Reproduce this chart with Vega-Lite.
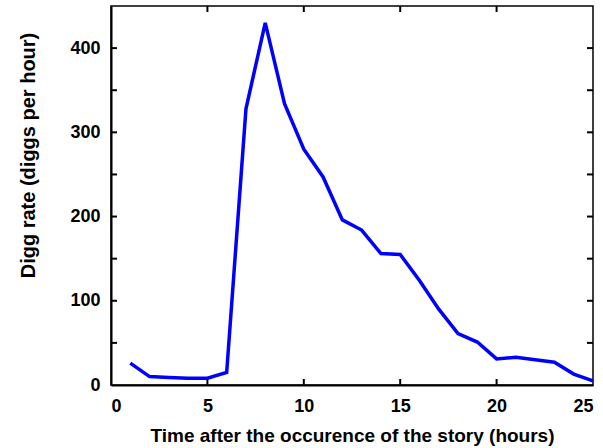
{
  "$schema": "https://vega.github.io/schema/vega-lite/v6.json",
  "width": 482,
  "height": 379,
  "autosize": "none",
  "padding": {"left": 111, "top": 6, "right": 10, "bottom": 63},
  "background": "white",
  "config": {
    "view": {"stroke": "black", "strokeWidth": 1.5},
    "axis": {
      "domainColor": "black",
      "domainWidth": 2,
      "grid": false,
      "labelFont": "Liberation Sans",
      "labelFontWeight": "bold",
      "labelFontSize": 18,
      "labelColor": "black",
      "titleFont": "Liberation Sans",
      "titleFontWeight": "bold",
      "titleColor": "black"
    }
  },
  "datasets": {
    "digg": [
      {"t": 1, "rate": 26},
      {"t": 2, "rate": 10},
      {"t": 3, "rate": 9},
      {"t": 4, "rate": 8},
      {"t": 5, "rate": 8},
      {"t": 6, "rate": 15},
      {"t": 7, "rate": 328},
      {"t": 8, "rate": 430},
      {"t": 9, "rate": 334},
      {"t": 10, "rate": 280},
      {"t": 11, "rate": 247},
      {"t": 12, "rate": 196},
      {"t": 13, "rate": 184},
      {"t": 14, "rate": 156},
      {"t": 15, "rate": 155},
      {"t": 16, "rate": 124},
      {"t": 17, "rate": 90},
      {"t": 18, "rate": 61},
      {"t": 19, "rate": 51},
      {"t": 20, "rate": 31},
      {"t": 21, "rate": 33},
      {"t": 22, "rate": 30},
      {"t": 23, "rate": 27},
      {"t": 24, "rate": 13},
      {"t": 25, "rate": 5}
    ],
    "xticks": [{"v": 5}, {"v": 10}, {"v": 15}, {"v": 20}],
    "yticks": [{"v": 50}, {"v": 100}, {"v": 150}, {"v": 200}, {"v": 250}, {"v": 300}, {"v": 350}, {"v": 400}]
  },
  "layer": [
    {
      "data": {"name": "digg"},
      "mark": {"type": "line", "color": "#0000ff", "strokeWidth": 3.5},
      "encoding": {
        "x": {
          "field": "t", "type": "quantitative",
          "scale": {"domain": [0, 25], "nice": false},
          "axis": {"values": [0, 5, 10, 15, 20, 25], "ticks": false, "labelPadding": 12, "title": "Time after the occurence of the story (hours)", "titleFontSize": 19, "titleBaseline": "alphabetic", "titleY": 56, "titleX": 241}
        },
        "y": {
          "field": "rate", "type": "quantitative",
          "scale": {"domain": [0, 450], "nice": false},
          "axis": {"values": [0, 100, 200, 300, 400], "ticks": false, "labelPadding": 11, "title": "Digg rate (diggs per hour)", "titleFontSize": 20, "titleX": -73, "titleY": 149, "titleAnchor": "middle"}
        }
      }
    },
    {
      "data": {"name": "xticks"},
      "mark": {"type": "tick", "orient": "vertical", "size": 12, "thickness": 2, "color": "black", "clip": true, "opacity": 1},
      "encoding": {
        "x": {"field": "v", "type": "quantitative"},
        "y": {"datum": 0, "type": "quantitative"}
      }
    },
    {
      "data": {"name": "xticks"},
      "mark": {"type": "tick", "orient": "vertical", "size": 12, "thickness": 2, "color": "black", "clip": true, "opacity": 1},
      "encoding": {
        "x": {"field": "v", "type": "quantitative"},
        "y": {"datum": 450, "type": "quantitative"}
      }
    },
    {
      "data": {"name": "yticks"},
      "mark": {"type": "tick", "orient": "horizontal", "size": 12, "thickness": 2, "color": "black", "clip": true, "opacity": 1},
      "encoding": {
        "y": {"field": "v", "type": "quantitative"},
        "x": {"datum": 0, "type": "quantitative"}
      }
    },
    {
      "data": {"name": "yticks"},
      "mark": {"type": "tick", "orient": "horizontal", "size": 12, "thickness": 2, "color": "black", "clip": true, "opacity": 1},
      "encoding": {
        "y": {"field": "v", "type": "quantitative"},
        "x": {"datum": 25, "type": "quantitative"}
      }
    },
    {
      "data": {"name": "yticks"},
      "mark": {"type": "rule", "opacity": 0},
      "encoding": {
        "y": {"field": "v", "type": "quantitative"}
      }
    }
  ]
}
